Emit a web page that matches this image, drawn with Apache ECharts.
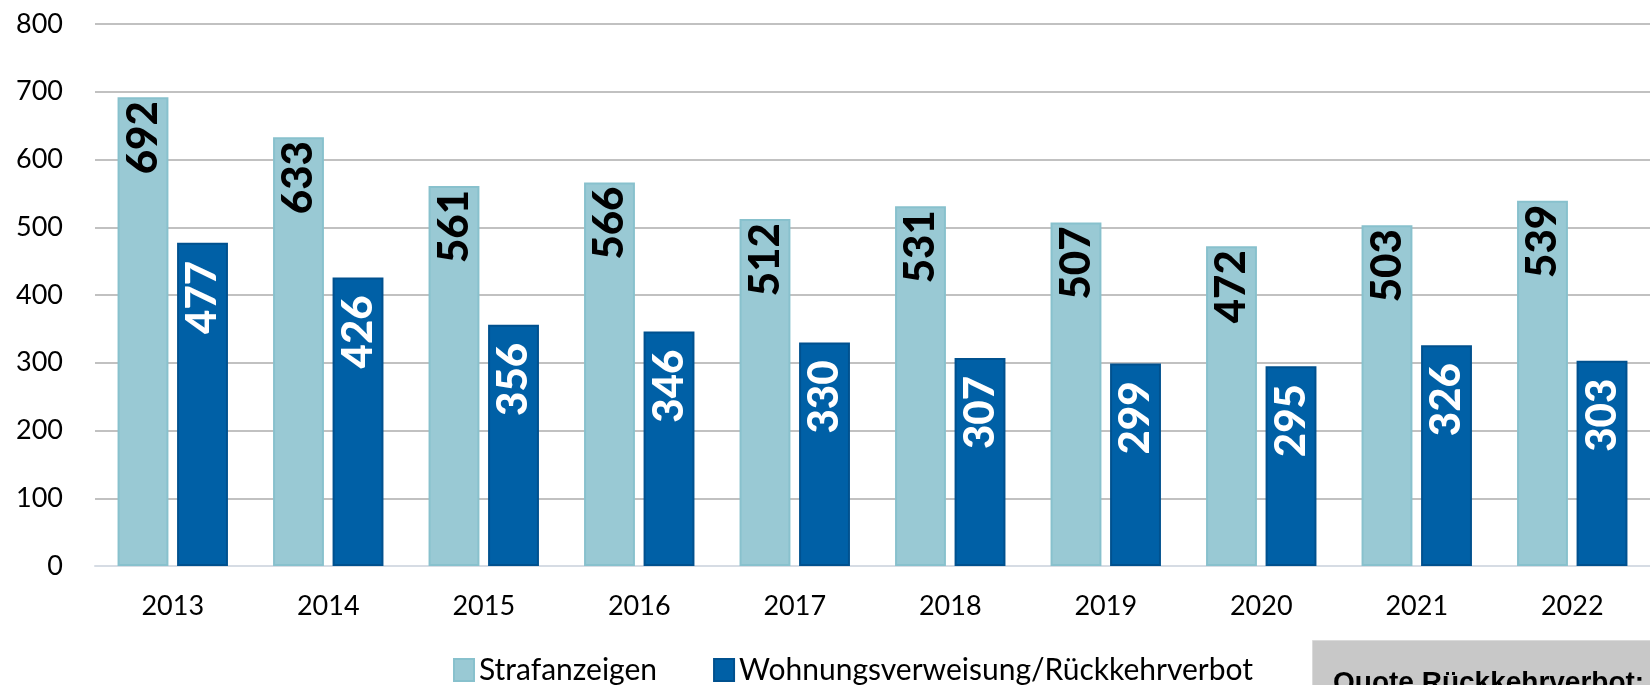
<!DOCTYPE html>
<html>
<head>
<meta charset="utf-8">
<script src="https://cdn.jsdelivr.net/npm/echarts@6/dist/echarts.min.js"></script>
<style>
html,body{margin:0;padding:0;background:#fff;}
#chart{width:1650px;height:685px;}
</style>
</head>
<body>
<div id="chart"></div>
<script>
const years = ['2013','2014','2015','2016','2017','2018','2019','2020','2021','2022'];
const strafanzeigen = [692, 633, 561, 566, 512, 531, 507, 472, 503, 539];
const wohnungsverweisung = [477, 426, 356, 346, 330, 307, 299, 295, 326, 303];
const seriesNames = ['Strafanzeigen', 'Wohnungsverweisung/Rückkehrverbot'];
const boxText = 'Quote Rückkehrverbot:';

const chart = echarts.init(document.getElementById('chart'));
const axisFont = 'Lato, "Open Sans", sans-serif';
chart.setOption({
  animation: false,
  backgroundColor: '#ffffff',
  grid: { left: 95, right: -11, top: 24, bottom: 119, containLabel: false },
  legend: {
    left: 448, top: 650,
    itemWidth: 20, itemHeight: 22, itemGap: 56,
    icon: 'rect',
    textStyle: { fontFamily: axisFont, fontSize: 30, color: '#000', lineHeight: 30 },
    data: seriesNames
  },
  xAxis: {
    type: 'category',
    data: years,
    axisTick: { show: false },
    axisLine: { show: true, lineStyle: { color: '#D6DCE4', width: 2 } },
    axisLabel: { fontFamily: axisFont, fontSize: 27, color: '#000', margin: 27 }
  },
  yAxis: {
    type: 'value',
    min: 0, max: 800, interval: 100,
    axisLine: { show: false },
    axisTick: { show: false },
    splitLine: { lineStyle: { color: '#ADADAD', width: 1.5 } },
    axisLabel: { fontFamily: axisFont, fontSize: 27, color: '#000', margin: 32 }
  },
  series: [
    {
      name: seriesNames[0],
      type: 'bar',
      data: strafanzeigen,
      barGap: '17%',
      barCategoryGap: '29%',
      itemStyle: { color: '#99C9D4', borderColor: '#88C1CD', borderWidth: 2 },
      label: {
        show: true, position: 'insideTop', rotate: 90,
        align: 'right', verticalAlign: 'middle', distance: 4,
        fontFamily: axisFont, fontWeight: 900, fontSize: 42, color: '#000'
      }
    },
    {
      name: seriesNames[1],
      type: 'bar',
      data: wohnungsverweisung,
      itemStyle: { color: '#0060A6', borderColor: '#00518F', borderWidth: 2 },
      label: {
        show: true, position: 'insideTop', rotate: 90,
        align: 'right', verticalAlign: 'middle', distance: 18,
        fontFamily: axisFont, fontWeight: 900, fontSize: 42, color: '#fff'
      }
    }
  ],
  graphic: [
    {
      type: 'rect', left: 1312, top: 640, z: 10,
      shape: { width: 400, height: 60 },
      style: { fill: '#C8C8C8', stroke: '#DADADA', lineWidth: 1 }
    },
    {
      type: 'text', z: 11,
      style: {
        x: 1333, y: 683, text: boxText,
        font: 'bold 28px "Liberation Sans", Arial, sans-serif',
        fill: '#000', verticalAlign: 'middle', align: 'left'
      }
    }
  ]
});
</script>
</body>
</html>
